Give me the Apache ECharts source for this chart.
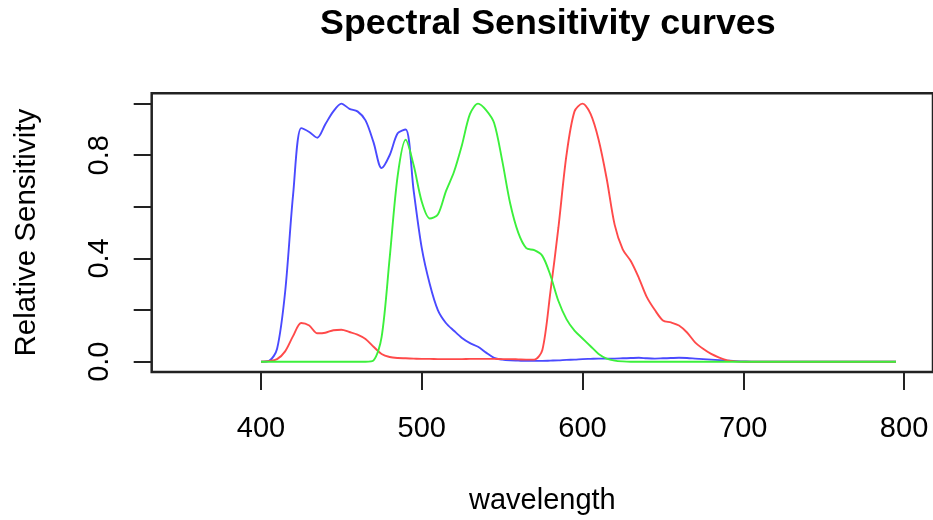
<!DOCTYPE html>
<html>
<head>
<meta charset="utf-8">
<script src="https://cdn.jsdelivr.net/npm/echarts@6/dist/echarts.min.js"></script>
<style>
html,body{margin:0;padding:0;background:#fff;}
#chart{width:933px;height:520px;}
</style>
</head>
<body>
<div id="chart"></div>
<script>
var wavelengths = [400,405,410,415,420,425,430,435,440,445,450,455,460,465,470,475,480,485,490,495,
  500,505,510,515,520,525,530,535,540,545,550,555,560,565,570,575,580,585,590,595,
  600,605,610,615,620,625,630,635,640,645,650,655,660,665,670,675,680,685,690,695,
  700,705,710,715,720,725,730,735,740,745,750,755,760,765,770,775,780,785,790,795];

var blueValues = [0,0.003,0.05,0.27,0.65,0.905,0.89,0.868,0.92,0.97,1.0,0.98,0.97,0.935,0.85,0.75,0.80,0.885,0.9,0.66,
  0.44,0.30,0.20,0.15,0.12,0.092,0.072,0.058,0.035,0.015,0.008,0.005,0.004,0.003,0.003,0.003,0.004,0.005,0.007,0.008,
  0.01,0.011,0.012,0.012,0.012,0.013,0.014,0.015,0.013,0.012,0.013,0.014,0.015,0.014,0.012,0.01,0.008,0.006,0.004,0.002,
  0.001,0,0,0,0,0,0,0,0,0,0,0,0,0,0,0,0,0,0,0];

var redValues = [0,0.002,0.01,0.04,0.10,0.15,0.14,0.11,0.112,0.122,0.124,0.115,0.105,0.088,0.058,0.03,0.018,0.014,0.013,0.012,
  0.011,0.011,0.01,0.01,0.01,0.01,0.011,0.011,0.011,0.011,0.01,0.01,0.009,0.008,0.008,0.045,0.27,0.52,0.80,0.97,
  1.0,0.96,0.86,0.71,0.53,0.435,0.39,0.325,0.25,0.2,0.16,0.152,0.14,0.113,0.075,0.05,0.03,0.016,0.005,0.001,
  0,0,0,0,0,0,0,0,0,0,0,0,0,0,0,0,0,0,0,0];

var greenValues = [0,0,0,0,0,0,0,0,0,0,0,0,0,0,0.005,0.095,0.40,0.72,0.86,0.76,
  0.62,0.555,0.57,0.66,0.735,0.84,0.96,1.0,0.975,0.925,0.78,0.613,0.50,0.44,0.432,0.41,0.335,0.235,0.165,0.12,
  0.09,0.06,0.03,0.012,0.004,0.001,0,0,0,0,0,0,0,0,0,0,0,0,0,0,
  0,0,0,0,0,0,0,0,0,0,0,0,0,0,0,0,0,0,0,0];

var xTicks = [400,500,600,700,800];
var yTicks = [0,0.2,0.4,0.6,0.8,1.0];
var yLabels = [0,0.4,0.8];

function pairs(xs, ys){ return xs.map(function(x,i){ return [x, ys[i]]; }); }

var FONT = 'Liberation Sans';
var chart = echarts.init(document.getElementById('chart'), null, {renderer:'canvas'});
chart.setOption({
  animation:false,
  backgroundColor:'#fff',
  title:{
    text:'Spectral Sensitivity curves',
    left:315,
    top:1,
    textStyle:{fontFamily:FONT,fontSize:35.8,fontWeight:'bold',color:'#000'}
  },
  grid:{
    left:151.7, top:93.3, right:-3.7, bottom:145,
    show:true, borderColor:'#222', borderWidth:2.5, backgroundColor:'transparent'
  },
  xAxis:{
    type:'value', min:332, max:818,
    name:'wavelength', nameLocation:'middle', nameGap:114,
    nameTextStyle:{fontFamily:FONT,fontSize:29,color:'#000'},
    axisLine:{show:false,onZero:false},
    axisTick:{show:true,length:18,inside:false,customValues:xTicks,lineStyle:{color:'#222',width:2}},
    axisLabel:{show:true,margin:42,customValues:xTicks,fontFamily:FONT,fontSize:29,color:'#000'},
    splitLine:{show:false}
  },
  yAxis:{
    type:'value', min:-0.04, max:1.04,
    name:'Relative Sensitivity', nameLocation:'middle', nameGap:110, nameRotate:90,
    nameTextStyle:{fontFamily:FONT,fontSize:29.5,color:'#000'},
    axisLine:{show:false,onZero:false},
    axisTick:{show:true,length:18,inside:false,customValues:yTicks,lineStyle:{color:'#222',width:2}},
    axisLabel:{show:true,margin:37,rotate:90,customValues:yLabels,fontFamily:FONT,fontSize:29,color:'#000',
      formatter:function(v){ return v.toFixed(1); }},
    splitLine:{show:false}
  },
  series:[
    {type:'line', data:pairs(wavelengths, blueValues), smooth:0.3, showSymbol:false, lineStyle:{color:'#4a4aff',width:1.9}},
    {type:'line', data:pairs(wavelengths, redValues), smooth:0.3, showSymbol:false, lineStyle:{color:'#ff4a4a',width:1.9}},
    {type:'line', data:pairs(wavelengths, greenValues), smooth:0.3, showSymbol:false, lineStyle:{color:'#3cf03c',width:1.9}}
  ]
});
</script>
</body>
</html>
